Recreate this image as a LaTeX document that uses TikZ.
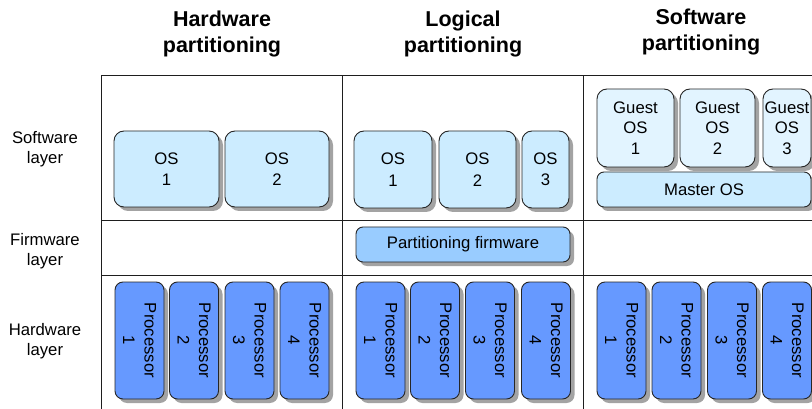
\documentclass[tikz,border=0pt]{standalone}
\usepackage{fontspec}
\setmainfont{Liberation Sans}
\usetikzlibrary{shadows}
\definecolor{osfill}{RGB}{204,236,255}
\definecolor{guestfill}{RGB}{226,244,255}
\definecolor{fwfill}{RGB}{153,204,255}
\definecolor{cpufill}{RGB}{102,153,255}
\definecolor{gridline}{RGB}{30,30,30}
\tikzset{
  box/.style={draw=black!85, line width=0.9pt, inner sep=0pt, align=center,
    font=\fontsize{16.7}{21.5}\selectfont,
    drop shadow={shadow xshift=4pt, shadow yshift=-4pt, fill=black!45, opacity=0.8}},
  osbox/.style={box, fill=osfill, rounded corners=10pt},
  guestbox/.style={box, fill=guestfill, rounded corners=10pt,
    font=\fontsize{16.7}{20.5}\selectfont},
  fwbox/.style={box, fill=fwfill, rounded corners=7pt},
  cpubox/.style={box, fill=cpufill, rounded corners=8pt,
    minimum width=49pt, minimum height=117pt},
  cputext/.style={rotate=-90, align=center, inner sep=0pt,
    font=\fontsize{16.7}{21.5}\selectfont},
  layerlabel/.style={align=center, inner sep=0pt, font=\fontsize{16.7}{20.5}\selectfont},
  coltitle/.style={align=center, inner sep=0pt, font=\fontsize{21.5}{26}\selectfont\bfseries},
  grid line/.style={draw=gridline, line width=1.2pt}
}
\newcommand{\cpu}[3]{%
  \node[cpubox] (#1) at (#2,340.5) {};
  \node[cputext] (#1t) at (#1.center) {Processor\\#3};
}
\begin{document}
\begin{tikzpicture}[x=1pt, y=-1pt]
  \clip (0,0) rectangle (812,409);
  \useasboundingbox (0,0) rectangle (812,409);

  % table rules
  \draw[grid line] (101.5,75.5) -- (812,75.5);
  \draw[grid line] (101.5,220.5) -- (812,220.5);
  \draw[grid line] (101.5,275.5) -- (812,275.5);
  \draw[grid line] (101.5,75.5) -- (101.5,409);
  \draw[grid line] (342.5,75.5) -- (342.5,409);
  \draw[grid line] (583.5,75.5) -- (583.5,409);

  % column titles
  \node[coltitle] (t1) at (222,34) {Hardware\\partitioning};
  \node[coltitle] (t2) at (463,34) {Logical\\partitioning};
  \node[coltitle] (t3) at (701,32) {Software\\partitioning};

  % row labels
  \node[layerlabel] (l1) at (45,149) {Software\\layer};
  \node[layerlabel] (l2) at (45,251) {Firmware\\layer};
  \node[layerlabel] (l3) at (45,341) {Hardware\\layer};

  % hardware partitioning
  \node[osbox, minimum width=105pt, minimum height=76pt] (hos1) at (166.5,169) {OS\\1};
  \node[osbox, minimum width=104pt, minimum height=76pt] (hos2) at (277,169) {OS\\2};
  \cpu{hp1}{139.5}{1}
  \cpu{hp2}{194}{2}
  \cpu{hp3}{249.5}{3}
  \cpu{hp4}{304.5}{4}

  % logical partitioning
  \node[osbox, minimum width=78pt, minimum height=77pt] (los1) at (393,169.5) {OS\\1};
  \node[osbox, minimum width=77pt, minimum height=77pt] (los2) at (477.5,169.5) {OS\\2};
  \node[osbox, minimum width=47pt, minimum height=77pt] (los3) at (545.5,169.5) {OS\\3};
  \node[fwbox, minimum width=214pt, minimum height=35pt] (fw) at (463,244.5) {Partitioning firmware};
  \cpu{lp1}{380.5}{1}
  \cpu{lp2}{435}{2}
  \cpu{lp3}{490}{3}
  \cpu{lp4}{546}{4}

  % software partitioning
  \node[guestbox, minimum width=77pt, minimum height=78pt] (g1) at (635.5,128) {Guest\\OS\\1};
  \node[guestbox, minimum width=75pt, minimum height=78pt] (g2) at (717.5,128) {Guest\\OS\\2};
  \node[guestbox, minimum width=48pt, minimum height=78pt] (g3) at (787,128) {Guest\\OS\\3};
  \node[osbox, rounded corners=7pt, minimum width=214pt, minimum height=35pt] (mos) at (704,189.5) {Master OS};
  \cpu{sp1}{621.5}{1}
  \cpu{sp2}{676.5}{2}
  \cpu{sp3}{732}{3}
  \cpu{sp4}{787}{4}
\end{tikzpicture}
\end{document}
